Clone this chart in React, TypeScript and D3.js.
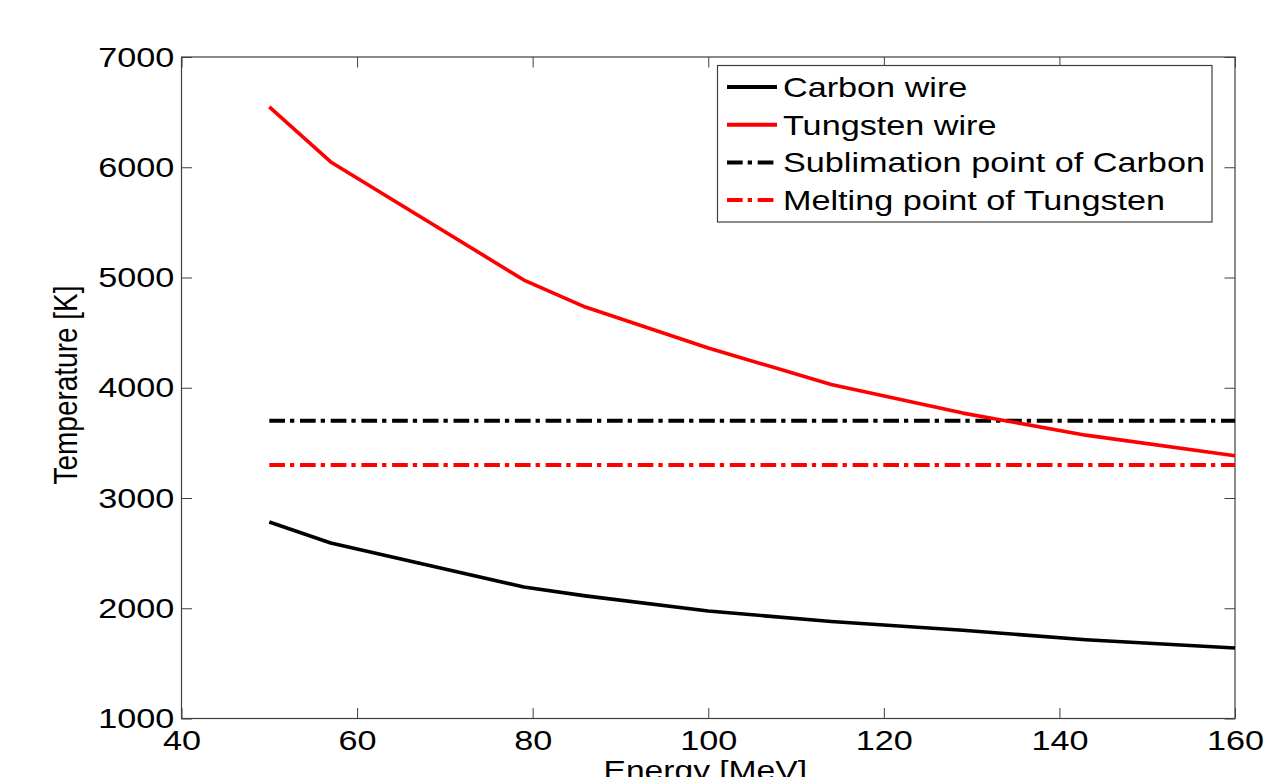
import React, { useEffect, useRef } from "react";
import * as d3 from "d3";

// energy points [MeV] and wire temperatures [K]
const energy = [50, 57, 79, 86, 100, 114, 129, 143, 160];
const carbonWire = [2782, 2592, 2193, 2112, 1975, 1880, 1800, 1715, 1640];
const tungstenWire = [6547, 6048, 4977, 4732, 4361, 4030, 3770, 3570, 3384];

// reference levels
const sublimationCarbon = 3700;
const meltingTungsten = 3300;

const xTicks = [40, 60, 80, 100, 120, 140, 160];
const yTicks = [1000, 2000, 3000, 4000, 5000, 6000, 7000];

const legendLabels = [
	"Carbon wire",
	"Tungsten wire",
	"Sublimation point of Carbon",
	"Melting point of Tungsten"
];

const W = 1277;
const H = 777;
const margins = { top: 57, right: 42, bottom: 58.5, left: 181.5 };
const FONT = "'Liberation Sans', Arial, sans-serif";
const STRETCH = 1.2; // the original picture is widened horizontally
const DASHDOT = "15.7,5,4.3,5.7";

function App() {
	const ref = useRef<SVGSVGElement>(null);

	useEffect(() => {
		const svg = d3.select(ref.current);
		svg.selectAll("*").remove();

		const innerW = W - margins.left - margins.right;
		const innerH = H - margins.top - margins.bottom;

		const x = d3.scaleLinear().domain([40, 160]).range([0, innerW]);
		const y = d3.scaleLinear().domain([1000, 7000]).range([innerH, 0]);

		const g = svg
			.append("g")
			.attr("transform", `translate(${margins.left},${margins.top})`);

		const styleAxis = (sel: any) => {
			sel.select(".domain").remove();
			sel.selectAll(".tick line").attr("stroke", "#404040").attr("stroke-width", 1);
			sel.selectAll(".tick text")
				.attr("fill", "#000")
				.style("font-family", FONT)
				.style("font-size", "28.5px");
		};

		// bottom axis
		const bottom = g
			.append("g")
			.attr("transform", `translate(0,${innerH})`)
			.call(d3.axisBottom(x).tickValues(xTicks).tickFormat(d3.format("d")).tickSizeInner(-10.5).tickSizeOuter(0).tickPadding(11.5))
			.call(styleAxis);
		bottom.selectAll(".tick text").attr("transform", `scale(${STRETCH},1)`);

		// left axis
		const left = g
			.append("g")
			.call(d3.axisLeft(y).tickValues(yTicks).tickFormat(d3.format("d")).tickSizeInner(-10.5).tickSizeOuter(0).tickPadding(6))
			.call(styleAxis);
		left.selectAll(".tick text").attr("transform", `scale(${STRETCH},1)`);

		// top and right ticks (no labels)
		g.append("g")
			.call(d3.axisTop(x).tickValues(xTicks).tickSizeInner(-10.5).tickSizeOuter(0).tickFormat(() => ""))
			.call(styleAxis);
		g.append("g")
			.attr("transform", `translate(${innerW},0)`)
			.call(d3.axisRight(y).tickValues(yTicks).tickSizeInner(-10.5).tickSizeOuter(0).tickFormat(() => ""))
			.call(styleAxis);

		// axes box
		g.append("rect")
			.attr("width", innerW)
			.attr("height", innerH)
			.attr("fill", "none")
			.attr("stroke", "#404040")
			.attr("stroke-width", 1.2);

		// reference levels
		const levels = [
			{ value: sublimationCarbon, color: "#000" },
			{ value: meltingTungsten, color: "#ff0000" }
		];
		levels.forEach(l => {
			g.append("line")
				.attr("x1", x(energy[0]))
				.attr("x2", x(energy[energy.length - 1]))
				.attr("y1", y(l.value))
				.attr("y2", y(l.value))
				.attr("stroke", l.color)
				.attr("stroke-width", 4)
				.attr("stroke-dasharray", DASHDOT);
		});

		// wire curves
		const lineGen = d3
			.line<number>()
			.x((d, i) => x(energy[i]))
			.y(d => y(d));
		[
			{ data: carbonWire, color: "#000" },
			{ data: tungstenWire, color: "#ff0000" }
		].forEach(s => {
			g.append("path")
				.datum(s.data)
				.attr("d", lineGen)
				.attr("fill", "none")
				.attr("stroke", s.color)
				.attr("stroke-width", 3.6)
				.attr("stroke-linejoin", "round");
		});

		// axis labels
		svg.append("text")
			.attr("transform", `translate(${margins.left + innerW / 2 - 3},780) scale(${STRETCH},1)`)
			.attr("text-anchor", "middle")
			.style("font-family", FONT)
			.style("font-size", "28px")
			.text("Energy [MeV]");
		svg.append("text")
			.attr("transform", `translate(77,385) scale(${STRETCH},1) rotate(-90)`)
			.attr("text-anchor", "middle")
			.style("font-family", FONT)
			.style("font-size", "28px")
			.text("Temperature [K]");

		// legend
		const legend = svg.append("g");
		legend.append("rect")
			.attr("x", 717.5)
			.attr("y", 65.5)
			.attr("width", 494.5)
			.attr("height", 156.5)
			.attr("fill", "#fff")
			.attr("stroke", "#404040")
			.attr("stroke-width", 1.2);
		const legendStyles = [
			{ color: "#000", dash: null },
			{ color: "#ff0000", dash: null },
			{ color: "#000", dash: DASHDOT },
			{ color: "#ff0000", dash: DASHDOT }
		];
		legendLabels.forEach((label, i) => {
			const baseline = 97 + i * 37.7;
			legend.append("line")
				.attr("x1", 727)
				.attr("x2", 777)
				.attr("y1", baseline - 10)
				.attr("y2", baseline - 10)
				.attr("stroke", legendStyles[i].color)
				.attr("stroke-width", 4)
				.attr("stroke-dasharray", legendStyles[i].dash);
			legend.append("text")
				.attr("transform", `translate(783,${baseline}) scale(${STRETCH},1)`)
				.style("font-family", FONT)
				.style("font-size", "28.5px")
				.text(label);
		});
	}, []);

	return (
		<svg
			ref={ref}
			width={W}
			height={H}
			style={{ position: "absolute", left: 0, top: 0, background: "#fff" }}
		/>
	);
}

export default App;
